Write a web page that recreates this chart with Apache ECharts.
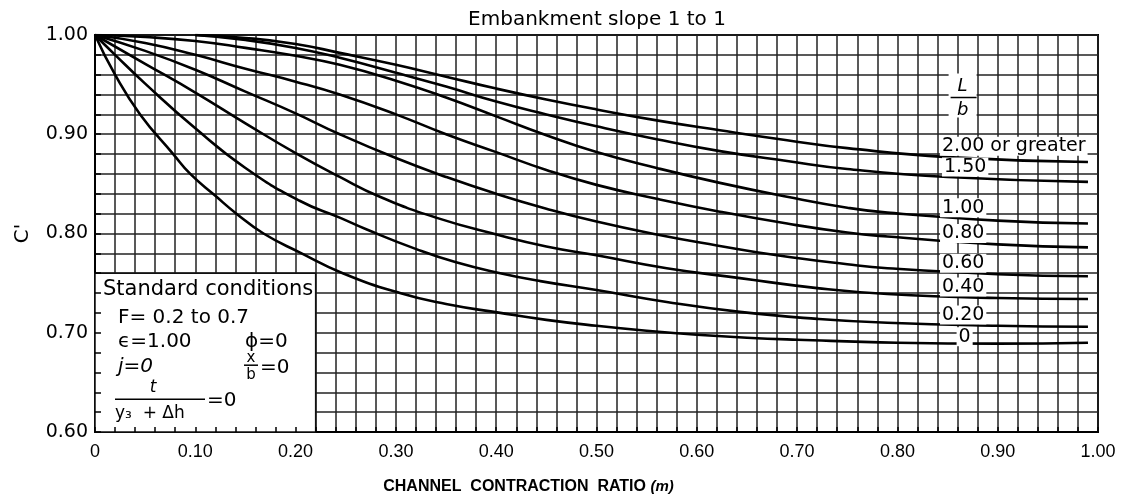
<!DOCTYPE html>
<html>
<head>
<meta charset="utf-8">
<script src="https://cdn.jsdelivr.net/npm/echarts@6/dist/echarts.min.js"></script>
<style>
html, body { margin: 0; padding: 0; background: #fff; }
#chart { width: 1126px; height: 504px; }
</style>
</head>
<body>
<div id="chart"></div>
<script>
// Discharge coefficient C versus channel contraction ratio m,
// one curve for each ratio L/b (embankment slope 1 to 1).
const curveLabels = ['2.00 or greater', '1.50', '1.00', '0.80', '0.60', '0.40', '0.20', '0'];

const cLb200 = [[0.10,1.000],[0.15,0.997],[0.20,0.991],[0.244,0.982],[0.30,0.970],[0.35,0.958],[0.40,0.946],[0.45,0.935],[0.50,0.925],[0.56,0.914],[0.623,0.904],[0.69,0.894],[0.75,0.886],[0.85,0.877],[0.99,0.872]];
const cLb150 = [[0.10,1.000],[0.15,0.995],[0.20,0.987],[0.244,0.977],[0.30,0.962],[0.35,0.948],[0.40,0.933],[0.45,0.920],[0.50,0.908],[0.56,0.895],[0.623,0.883],[0.69,0.873],[0.75,0.865],[0.85,0.857],[0.99,0.852]];
const cLb100 = [[0,1.000],[0.05,0.998],[0.10,0.994],[0.15,0.987],[0.20,0.979],[0.244,0.970],[0.30,0.954],[0.35,0.937],[0.40,0.918],[0.45,0.899],[0.50,0.882],[0.56,0.866],[0.623,0.851],[0.69,0.837],[0.75,0.826],[0.79,0.821],[0.90,0.813],[0.99,0.810]];
const cLb080 = [[0,1.000],[0.05,0.992],[0.10,0.980],[0.15,0.966],[0.20,0.953],[0.244,0.940],[0.30,0.920],[0.35,0.900],[0.40,0.882],[0.45,0.864],[0.50,0.849],[0.56,0.835],[0.623,0.822],[0.69,0.810],[0.75,0.801],[0.79,0.797],[0.90,0.789],[0.99,0.786]];
const cLb060 = [[0,1.000],[0.05,0.984],[0.10,0.965],[0.15,0.943],[0.20,0.921],[0.244,0.900],[0.30,0.876],[0.35,0.857],[0.40,0.840],[0.45,0.825],[0.50,0.812],[0.56,0.799],[0.62,0.788],[0.68,0.778],[0.75,0.769],[0.79,0.765],[0.90,0.759],[0.99,0.757]];
const cLb040 = [[0,1.000],[0.05,0.971],[0.10,0.942],[0.15,0.911],[0.20,0.881],[0.244,0.857],[0.284,0.837],[0.34,0.816],[0.404,0.798],[0.45,0.787],[0.50,0.778],[0.57,0.765],[0.643,0.755],[0.72,0.745],[0.79,0.739],[0.90,0.735],[0.99,0.734]];
const cLb020 = [[0,1.000],[0.02,0.980],[0.05,0.951],[0.10,0.906],[0.15,0.866],[0.204,0.833],[0.244,0.816],[0.271,0.804],[0.321,0.784],[0.36,0.771],[0.404,0.760],[0.444,0.752],[0.50,0.743],[0.57,0.731],[0.643,0.721],[0.72,0.714],[0.79,0.710],[0.90,0.707],[0.99,0.706]];
const cLb000 = [[0,1.000],[0.02,0.960],[0.045,0.920],[0.078,0.880],[0.095,0.860],[0.12,0.838],[0.141,0.820],[0.168,0.800],[0.204,0.781],[0.247,0.760],[0.304,0.740],[0.35,0.729],[0.404,0.720],[0.45,0.713],[0.50,0.707],[0.55,0.702],[0.60,0.698],[0.65,0.695],[0.70,0.693],[0.80,0.690],[0.90,0.689],[0.99,0.690]];

const curveData = [cLb200, cLb150, cLb100, cLb080, cLb060, cLb040, cLb020, cLb000];

const xTickLabels = ['0', '0.10', '0.20', '0.30', '0.40', '0.50', '0.60', '0.70', '0.80', '0.90', '1.00'];
const yTickLabels = ['0.60', '0.70', '0.80', '0.90', '1.00'];

const FONT = "'DejaVu Sans', sans-serif";
const NARROW = "'Liberation Sans', sans-serif";

const chart = echarts.init(document.getElementById('chart'), null, { renderer: 'canvas' });

const gridLine = { show: true, lineStyle: { color: '#222', width: 1.5 } };

chart.setOption({
  animation: false,
  backgroundColor: '#fff',
  title: {
    text: 'Embankment slope 1 to 1',
    left: 592, top: 5, textAlign: 'center',
    textStyle: { fontFamily: FONT, fontSize: 20, fontWeight: 'normal', color: '#000' }
  },
  grid: {
    left: 95, right: 28, top: 35, bottom: 72,
    show: true, borderColor: '#000', borderWidth: 2, backgroundColor: 'transparent'
  },
  xAxis: [{
    type: 'value', min: 0, max: 1, interval: 0.02, z: 0,
    axisLine: { show: true, lineStyle: { color: '#000', width: 2 } },
    axisTick: { show: false },
    splitLine: gridLine,
    axisLabel: {
      margin: 11, color: '#000', fontFamily: NARROW, fontSize: 18,
      formatter: v => { const k = Math.round(v * 100); return k % 10 ? '' : xTickLabels[k / 10]; }
    },
    name: '{a|CHANNEL  CONTRACTION  RATIO }{b|(m)}',
    nameLocation: 'middle', nameGap: 47,
    nameTextStyle: {
      padding: [0, 136, 0, 0],
      rich: {
        a: { fontFamily: "'Liberation Sans', sans-serif", fontWeight: 'bold', fontSize: 16, color: '#000' },
        b: { fontFamily: "'Liberation Sans', sans-serif", fontStyle: 'italic', fontWeight: 'bold', fontSize: 15, color: '#000' }
      }
    }
  }, {
    // inner tick marks along the bottom edge
    type: 'value', min: 0, max: 1, interval: 0.02, z: 6, position: 'bottom',
    axisLine: { show: false },
    axisTick: { show: true, inside: true, length: 5, lineStyle: { color: '#000', width: 1.5 } },
    axisLabel: { show: false }, splitLine: { show: false }
  }],
  yAxis: [{
    type: 'value', min: 0.6, max: 1, interval: 0.02, z: 0,
    axisLine: { show: true, lineStyle: { color: '#000', width: 2 } },
    axisTick: { show: false },
    splitLine: gridLine,
    axisLabel: {
      margin: 7, color: '#000', fontFamily: FONT, fontSize: 19,
      formatter: v => { const k = Math.round(v * 100); return k % 10 ? '' : yTickLabels[(k - 60) / 10]; }
    },
    name: "C'", nameLocation: 'middle', nameGap: 62, nameRotate: 90,
    nameTextStyle: { fontFamily: FONT, fontSize: 20, color: '#000' }
  }, {
    // inner tick marks along the left edge
    type: 'value', min: 0.6, max: 1, interval: 0.02, z: 6, position: 'left',
    axisLine: { show: false },
    axisTick: { show: true, inside: true, length: 6, lineStyle: { color: '#000', width: 1.5 } },
    axisLabel: { show: false }, splitLine: { show: false }
  }],
  series: curveData.map((d, i) => ({
    name: curveLabels[i],
    type: 'line',
    data: d,
    xAxisIndex: 0, yAxisIndex: 0,
    showSymbol: false, symbol: 'none',
    smooth: 0.5,
    silent: true, z: 3,
    lineStyle: { color: '#000', width: 2.6 }
  }))
});

// Annotations: curve labels, the L/b heading and the standard-conditions box
function drawAnnotations() {
  const P = (m, c) => chart.convertToPixel({ seriesIndex: 0 }, [m, c]);
  const g = [];
  const txt = (x, y, s, opt) => g.push(Object.assign({
    type: 'text', x, y, z: 20,
    style: Object.assign({ text: s, fill: '#000', font: '19px ' + FONT, textVerticalAlign: 'middle' }, (opt && opt.style) || {})
  }, opt && opt.el ? opt.el : {}));

  // curve labels, placed just above each curve near m = 0.85
  const anchors = [[0.8425, 0.888], [0.8445, 0.867], [0.8425, 0.826], [0.8425, 0.800], [0.8425, 0.770], [0.8425, 0.746], [0.8425, 0.718], [0.859, 0.696]];
  curveLabels.forEach((s, i) => {
    const p = P(anchors[i][0], anchors[i][1]);
    txt(p[0], p[1], s, { style: { backgroundColor: '#fff', padding: [0, 2, 0, 2] } });
  });

  // L/b heading
  const lb = P(0.865, 0.935);
  g.push({ type: 'rect', z: 19, shape: { x: lb[0] - 14, y: lb[1] - 26, width: 28, height: 44 }, style: { fill: '#fff' } });
  txt(lb[0], lb[1] - 13, 'L', { style: { textAlign: 'center', font: 'italic 18px ' + FONT } });
  g.push({ type: 'line', z: 20, shape: { x1: lb[0] - 12, y1: lb[1] - 2, x2: lb[0] + 14, y2: lb[1] - 2 }, style: { stroke: '#000', lineWidth: 1.5 } });
  txt(lb[0], lb[1] + 11, 'b', { style: { textAlign: 'center', font: 'italic 18px ' + FONT } });

  // standard conditions box
  const tl = P(0, 0.76), br = P(0.22, 0.6);
  g.push({ type: 'rect', z: 4, shape: { x: tl[0], y: tl[1], width: br[0] - tl[0], height: br[1] - tl[1] },
    style: { fill: '#fff', stroke: '#111', lineWidth: 1.5 } });
  const x0 = tl[0], y0 = tl[1];
  txt(x0 + 8, y0 + 16, 'Standard conditions', { style: { font: '21px ' + FONT, backgroundColor: '#fff' } });
  txt(x0 + 23, y0 + 45, 'F= 0.2 to 0.7', { style: { font: '20px ' + FONT } });
  txt(x0 + 23, y0 + 69, 'ϵ=1.00', { style: { font: '20px ' + FONT } });
  txt(x0 + 150, y0 + 69, 'ϕ=0', { style: { font: '20px ' + FONT } });
  txt(x0 + 23, y0 + 94, 'j=0', { style: { font: 'italic 20px ' + FONT } });
  txt(x0 + 156, y0 + 85, 'x', { style: { textAlign: 'center', font: '15px ' + FONT } });
  g.push({ type: 'line', z: 20, shape: { x1: x0 + 149, y1: y0 + 92, x2: x0 + 163, y2: y0 + 92 }, style: { stroke: '#000', lineWidth: 1.5 } });
  txt(x0 + 156, y0 + 102, 'b', { style: { textAlign: 'center', font: '15px ' + FONT } });
  txt(x0 + 165, y0 + 95, '=0', { style: { font: '20px ' + FONT } });
  txt(x0 + 58, y0 + 114, 't', { style: { textAlign: 'center', font: 'italic 17px ' + FONT } });
  g.push({ type: 'line', z: 20, shape: { x1: x0 + 20, y1: y0 + 126, x2: x0 + 110, y2: y0 + 126 }, style: { stroke: '#000', lineWidth: 1.5 } });
  txt(x0 + 20, y0 + 140, 'y₃  + Δh', { style: { font: '17px ' + FONT } });
  txt(x0 + 112, y0 + 128, '=0', { style: { font: '20px ' + FONT } });

  chart.setOption({ graphic: { elements: g } });
}
drawAnnotations();
</script>
</body>
</html>
